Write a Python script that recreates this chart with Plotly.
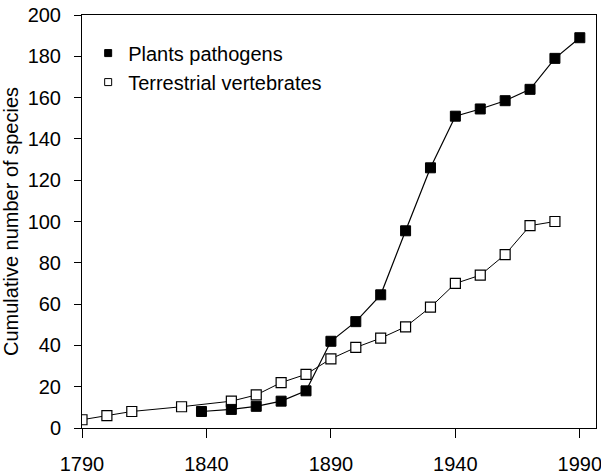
import plotly.graph_objects as go

# Data
path_years = [1838, 1850, 1860, 1870, 1880, 1890, 1900, 1910, 1920, 1930,
              1940, 1950, 1960, 1970, 1980, 1990]
path_values = [8, 9, 10.5, 13, 18, 42, 51.5, 64.5, 95.5, 126,
               151, 154.5, 158.5, 164, 179, 189]

vert_years = [1790, 1800, 1810, 1830, 1850, 1860, 1870, 1880, 1890, 1900,
              1910, 1920, 1930, 1940, 1950, 1960, 1970, 1980]
vert_values = [4, 6, 8, 10.3, 13, 16, 22, 26, 33.5, 39,
               43.5, 49, 58.5, 70, 74, 84, 98, 100]

x_ticks = [1790, 1840, 1890, 1940, 1990]
y_ticks = [0, 20, 40, 60, 80, 100, 120, 140, 160, 180, 200]

series_names = ["Plants pathogens", "Terrestrial vertebrates"]

FONT = "Liberation Sans, Arial, Helvetica, sans-serif"

fig = go.Figure()

fig.add_trace(go.Scatter(
    x=vert_years, y=vert_values, mode="lines+markers",
    line=dict(color="black", width=1),
    marker=dict(symbol="square", size=10, color="white",
                line=dict(color="black", width=1.2)),
    showlegend=False,
))
fig.add_trace(go.Scatter(
    x=path_years, y=path_values, mode="lines+markers",
    line=dict(color="black", width=1.2),
    marker=dict(symbol="square", size=10, color="black",
                line=dict(color="black", width=1)),
    showlegend=False,
))

# legend-only entries (markers without line), as in the reference
fig.add_trace(go.Scatter(
    x=[None], y=[None], mode="markers", name=series_names[0],
    marker=dict(symbol="square", size=7, color="black",
                line=dict(color="black", width=1)),
))
fig.add_trace(go.Scatter(
    x=[None], y=[None], mode="markers", name=series_names[1],
    marker=dict(symbol="square", size=7, color="white",
                line=dict(color="black", width=1)),
))

fig.update_layout(
    width=601, height=476,
    margin=dict(l=82, r=5, t=15, b=48, autoexpand=False),
    paper_bgcolor="white", plot_bgcolor="white",
    font=dict(family=FONT, size=20, color="black"),
    legend=dict(
        x=0.012, y=0.955, xanchor="left", yanchor="top",
        bgcolor="rgba(0,0,0,0)", itemwidth=30,
        font=dict(family=FONT, size=20, color="black"),
        tracegroupgap=0,
    ),
    xaxis=dict(
        range=[1790, 1996.5], tickvals=x_ticks,
        ticktext=[str(v) for v in x_ticks],
        showgrid=False, zeroline=False, automargin=False,
        showline=True, linecolor="black", linewidth=1, mirror=True,
        ticks="outside", ticklen=9, tickcolor="black", tickwidth=1,
        ticklabeloverflow="allow", ticklabelstandoff=9,
        tickfont=dict(family=FONT, size=20, color="black"),
    ),
    yaxis=dict(
        range=[0, 200], tickvals=y_ticks,
        showgrid=False, zeroline=False, automargin=False,
        showline=True, linecolor="black", linewidth=1, mirror=True,
        ticks="outside", ticklen=7, tickcolor="black", tickwidth=1,
        ticklabelstandoff=9,
        tickfont=dict(family=FONT, size=20, color="black"),
        title=dict(text="Cumulative number of species",
                   font=dict(family=FONT, size=20, color="black")),
    ),
)

fig.write_html("out.html", config={"displayModeBar": False},
               post_script="document.body.style.margin='0';document.body.style.overflow='hidden';")
